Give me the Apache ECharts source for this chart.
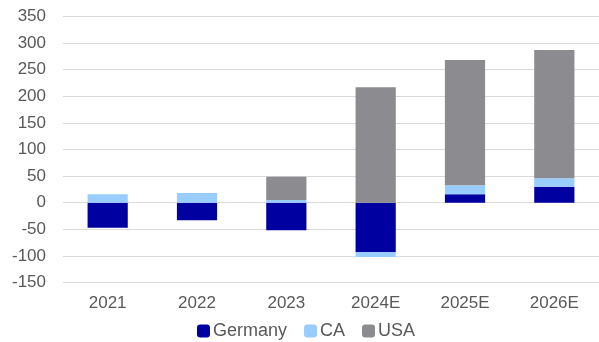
<!DOCTYPE html>
<html>
<head>
<meta charset="utf-8">
<script src="https://cdn.jsdelivr.net/npm/echarts@6/dist/echarts.min.js"></script>
<style>
  html, body { margin: 0; padding: 0; background: #ffffff; }
  #chart { width: 599px; height: 342px; }
</style>
</head>
<body>
<div id="chart"></div>
<script>
// Year categories on the x axis
const categories = ['2021', '2022', '2023', '2024E', '2025E', '2026E'];

// Stacked series values
const germany = [-47, -33, -52, -93, 16, 30];
const ca = [16, 18, 5, -9, 17, 16];
const usa = [0, 0, 44, 217, 235, 241];

// Value axis range
const yMin = -150;
const yMax = 350;
const yStep = 50;

const font = '"Liberation Sans", Arial, sans-serif';
const textColor = '#595959';

const chart = echarts.init(document.getElementById('chart'), null, { renderer: 'canvas' });

function barSeries(name, data, color) {
  return {
    name: name,
    type: 'bar',
    stack: 'total',
    data: data,
    barWidth: '45%',
    itemStyle: { color: color }
  };
}

chart.setOption({
  animation: false,
  backgroundColor: '#ffffff',
  grid: { left: 63, right: -2, top: 16.5, bottom: 59.5 },
  xAxis: {
    type: 'category',
    data: categories,
    axisLine: { show: false },
    axisTick: { show: false },
    axisLabel: { color: textColor, fontFamily: font, fontSize: 17, margin: 12 }
  },
  yAxis: {
    type: 'value',
    min: yMin,
    max: yMax,
    interval: yStep,
    axisLine: { show: false },
    axisTick: { show: false },
    axisLabel: { color: textColor, fontFamily: font, fontSize: 17, margin: 17 },
    splitLine: { lineStyle: { color: '#D9D9D9', width: 1 } }
  },
  legend: {
    bottom: -3,
    left: 192,
    itemWidth: 13,
    itemHeight: 13,
    itemGap: 17,
    icon: 'roundRect',
    textStyle: { color: textColor, fontFamily: font, fontSize: 18, padding: [0, 0, 0, -2] },
    data: ['Germany', 'CA', 'USA']
  },
  series: [
    barSeries('Germany', germany, '#0000A0'),
    barSeries('CA', ca, '#99CCFF'),
    barSeries('USA', usa, '#8B8B90')
  ]
});
</script>
</body>
</html>
